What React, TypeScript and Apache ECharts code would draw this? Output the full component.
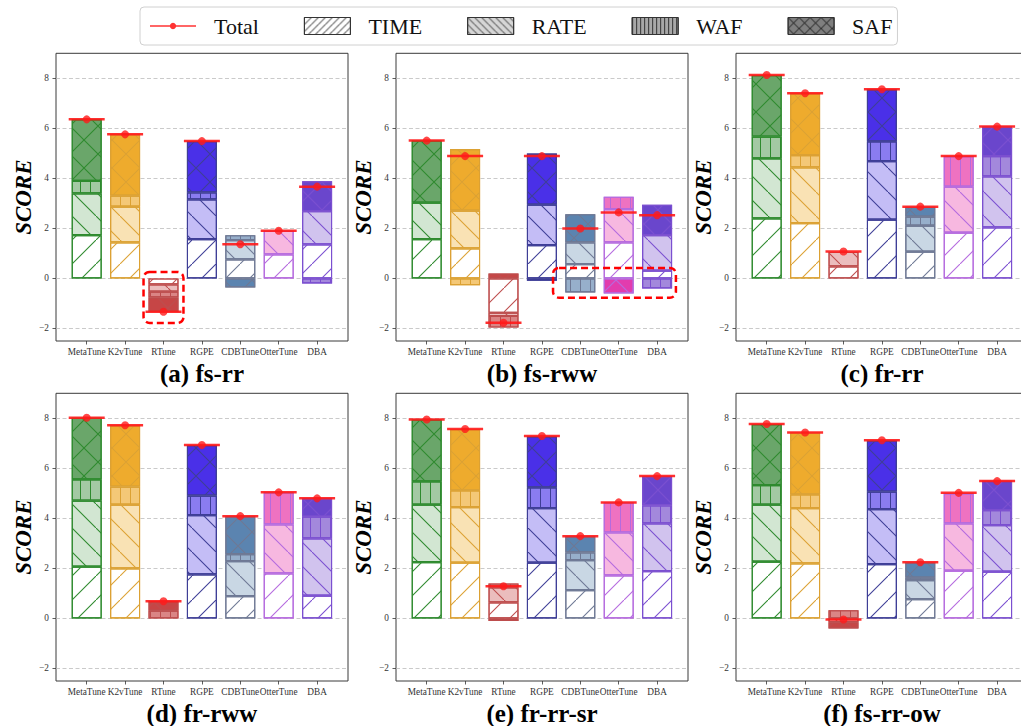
import React, { useEffect, useRef } from 'react';
import * as echarts from 'echarts';

// ---------------- data ----------------
const methods = ['MetaTune', 'K2vTune', 'RTune', 'RGPE', 'CDBTune', 'OtterTune', 'DBA'];
const panelTitles = ['(a) fs-rr', '(b) fs-rww', '(c) fr-rr', '(d) fr-rww', '(e) fr-rr-sr', '(f) fs-rr-ow'];
const components = ['TIME', 'RATE', 'WAF', 'SAF'];
const yTickMin = -2;
const yTickMax = 8;
const yTickStep = 2;

// one row per panel (a..f), one value per method
const TIME: (number | null)[][] = [
  [1.73, 1.44, -0.24, 1.57, 0.76, 0.96, 1.36],
  [1.57, 1.2, -1.37, 1.33, 0.57, 1.44, 0.31],
  [2.4, 2.21, 0.48, 2.35, 1.07, 1.83, 2.04],
  [2.07, 2.0, null, 1.76, 0.89, 1.8, 0.91],
  [2.25, 2.23, 0.64, 2.23, 1.13, 1.72, 1.89],
  [2.27, 2.2, null, 2.17, 0.77, 1.91, 1.87],
];
const RATE: (number | null)[][] = [
  [1.67, 1.43, -0.29, 1.59, 0.77, 0.95, 1.33],
  [1.46, 1.51, -0.13, 1.62, 0.87, 1.33, 1.42],
  [2.4, 2.23, 0.58, 2.34, 1.04, 1.84, 2.04],
  [2.64, 2.55, null, 2.37, 1.4, 1.96, 2.29],
  [2.3, 2.22, 0.6, 2.18, 1.2, 1.72, 1.91],
  [2.28, 2.21, -0.15, 2.2, 0.76, 1.89, 1.86],
];
const WAF: (number | null)[][] = [
  [0.5, 0.44, -0.23, 0.28, 0.2, null, -0.2],
  [null, -0.27, -0.46, -0.09, -0.56, 0.5, -0.4],
  [0.87, 0.49, null, 0.79, 0.36, 1.22, 0.81],
  [0.85, 0.72, 0.31, 0.78, 0.28, 1.28, 0.87],
  [0.93, 0.67, 0.16, 0.83, 0.31, 1.2, 0.72],
  [0.78, 0.55, 0.33, 0.7, 0.1, 1.2, 0.6],
];
const SAF: (number | null)[][] = [
  [2.46, 2.45, -0.57, 2.05, -0.36, null, 1.2],
  [2.48, 2.46, 0.2, 2.04, 1.13, -0.6, 1.22],
  [2.46, 2.47, null, 2.08, 0.4, null, 1.18],
  [2.46, 2.45, 0.38, 2.02, 1.52, null, 0.73],
  [2.47, 2.45, -0.1, 2.04, 0.65, null, 1.17],
  [2.44, 2.47, -0.25, 2.04, 0.61, null, 1.17],
];
const TOTAL: number[][] = [
  [6.36, 5.76, -1.33, 5.49, 1.37, 1.91, 3.67],
  [5.51, 4.89, -1.77, 4.89, 2.0, 2.64, 2.53],
  [8.13, 7.4, 1.08, 7.56, 2.87, 4.89, 6.07],
  [8.02, 7.72, 0.69, 6.93, 4.09, 5.04, 4.8],
  [7.95, 7.57, 1.29, 7.29, 3.29, 4.64, 5.69],
  [7.77, 7.43, -0.04, 7.12, 2.25, 5.02, 5.49],
];
const COMPONENT_DATA = [TIME, RATE, WAF, SAF];

// ---------------- styles ----------------
const FONT = "'Liberation Serif', 'Times New Roman', serif";
const EDGE = ['#2e8a2e', '#dca133', '#bd4d4d', '#3e3e96', '#6e7894', '#b56ade', '#7b4fd0'];
const FILL_RATE = ['#d2e6d2', '#f9e2b4', '#ebbdbd', '#c4bdf6', '#c9d7e4', '#f7b8e0', '#d1c3ee'];
const FILL_WAF = ['#a3c9a3', '#f4c877', '#da8585', '#8a7cf0', '#97afcb', '#ee72c1', '#a388dc'];
const FILL_SAF = ['#6aa66a', '#eeab2d', '#c64646', '#4a30e8', '#5b84b0', '#e23cae', '#6a46cc'];
const LEGEND_FILL = ['#ffffff', '#d6d6d6', '#a8a8a8', '#7f7f7f'];
const RED = '#ff1a1a';

// ---------------- layout ----------------
const W = 1021;
const H = 726;
const FRAME_LEFT = [56, 396, 736];
const FRAME_TOP = [53.3, 393.3];
const FRAME_W = 292;
const FRAME_H = 287.7;
const Y_MIN = -2.5;
const Y_MAX = 9;
const PPU = FRAME_H / (Y_MAX - Y_MIN);
const CAT_W = 38.4;
const FIRST_OFF = 30.7;

// annotation boxes: [panel, catFrom, catTo, valueTop, valueBottom]
const HIGHLIGHTS: [number, number, number, number, number][] = [
  [0, 1.48, 2.52, 0.26, -1.78],
  [1, 3.29, 6.49, 0.42, -0.77],
];

// ---------------- hatch decals ----------------
const decalCache = new Map<string, any>();
function diagPath(s: number, d: number, kind: 'fwd' | 'back' | 'cross') {
  const fwd = `M0,${s - d}L${s - d},0L${s},0L${s},${d}L${d},${s}L0,${s}Z`;
  const back = `M0,0L${d},0L${s},${s - d}L${s},${s}L${s - d},${s}L0,${d}Z`;
  if (kind === 'fwd') return 'path://' + fwd;
  if (kind === 'back') return 'path://' + back;
  return 'path://' + fwd + back;
}
function hatch(kind: 'fwd' | 'back' | 'vert' | 'cross', color: string, s: number, d: number) {
  const key = `${kind}|${color}|${s}|${d}`;
  if (decalCache.has(key)) return decalCache.get(key);
  let decal: any;
  if (kind === 'vert') {
    decal = {
      symbol: 'rect', symbolSize: 1, symbolKeepAspect: false,
      dashArrayX: [1, s - 1], dashArrayY: [10, 0], color, backgroundColor: null, rotation: 0,
    };
  } else {
    decal = {
      symbol: diagPath(s, d, kind), symbolSize: 1, symbolKeepAspect: false,
      dashArrayX: [s, 0], dashArrayY: [s, 0], color, backgroundColor: null, rotation: 0,
    };
  }
  decalCache.set(key, decal);
  return decal;
}
function barDecal(c: number, color: string) {
  if (c === 0) return hatch('fwd', color, 24, 0.75);
  if (c === 1) return hatch('back', color, 24, 0.75);
  if (c === 2) return hatch('vert', color, 10, 0);
  return hatch('cross', color, 28, 0.8);
}
function legendDecal(c: number) {
  if (c === 0) return hatch('fwd', '#222222', 7, 0.55);
  if (c === 1) return hatch('back', '#333333', 7, 0.55);
  if (c === 2) return hatch('vert', '#333333', 4, 0);
  return hatch('cross', '#222222', 11, 0.6);
}
function fillFor(c: number, i: number) {
  if (c === 0) return '#ffffff';
  if (c === 1) return FILL_RATE[i];
  if (c === 2) return FILL_WAF[i];
  return FILL_SAF[i];
}

const TOTAL_ICON =
  'path://M0,0L0.01,0L0,0.01Z M46,17L45.99,17L46,16.99Z M0,7.75L46,7.75L46,9.25L0,9.25Z M23,5.3A3.2,3.2 0 1 1 22.99,5.3Z';

function yFmt(v: number) {
  return v < 0 ? '\u2212' + Math.abs(v) : String(v);
}

function buildOption() {
  const grids: any[] = [];
  const xAxes: any[] = [];
  const yAxes: any[] = [];
  const series: any[] = [];
  const graphics: any[] = [];

  for (let p = 0; p < panelTitles.length; p++) {
    const col = p % 3;
    const row = Math.floor(p / 3);
    const fl = FRAME_LEFT[col];
    const ft = FRAME_TOP[row];

    // frame grid
    const gF = grids.length;
    grids.push({
      left: fl, top: ft, width: FRAME_W, height: FRAME_H, show: true,
      borderColor: '#3a3a3a', borderWidth: 1, backgroundColor: 'rgba(0,0,0,0)',
      containLabel: false, outerBoundsMode: 'none',
    });
    xAxes.push({ type: 'value', gridIndex: gF, show: false, min: 0, max: 1 });
    yAxes.push({ type: 'value', gridIndex: gF, show: false, min: 0, max: 1 });

    // tick grid (y labels, grid lines)
    const gT = grids.length;
    grids.push({
      left: fl, top: ft + (Y_MAX - yTickMax) * PPU, width: FRAME_W,
      height: (yTickMax - yTickMin) * PPU, show: false, containLabel: false, outerBoundsMode: 'none',
    });
    xAxes.push({ type: 'value', gridIndex: gT, show: false, min: 0, max: 1 });
    yAxes.push({
      type: 'value', gridIndex: gT, min: yTickMin, max: yTickMax, interval: yTickStep,
      axisLine: { show: false, onZero: false },
      axisTick: { show: true, length: 3.5, lineStyle: { color: '#333', width: 0.8 } },
      axisLabel: { show: true, fontSize: 9.3, color: '#333', margin: 7, fontFamily: FONT, formatter: yFmt },
      splitLine: { show: true, lineStyle: { color: '#bcbcbc', width: 0.8, type: [4, 2.5] } },
    });

    // bar grid
    const gB = grids.length;
    grids.push({
      left: fl + FIRST_OFF - CAT_W / 2, top: ft, width: CAT_W * methods.length, height: FRAME_H,
      show: false, containLabel: false, outerBoundsMode: 'none',
    });
    xAxes.push({
      type: 'category', gridIndex: gB, data: methods, boundaryGap: true,
      axisLine: { show: false, onZero: false },
      axisTick: { show: true, alignWithLabel: true, length: 3.5, lineStyle: { color: '#333', width: 0.8 } },
      axisLabel: { interval: 0, fontSize: 9.3, color: '#333', margin: 6, fontFamily: FONT, hideOverlap: false },
      splitLine: { show: false },
    });
    yAxes.push({ type: 'value', gridIndex: gB, min: Y_MIN, max: Y_MAX, show: false, splitLine: { show: false } });

    components.forEach((name, c) => {
      const vals = COMPONENT_DATA[c][p];
      series.push({
        type: 'bar', name, xAxisIndex: gB, yAxisIndex: gB, stack: 'panel' + p,
        stackStrategy: 'samesign', barWidth: 30, z: 2,
        itemStyle: { color: LEGEND_FILL[c], borderColor: '#333', borderWidth: 1, decal: legendDecal(c) },
        emphasis: { disabled: true },
        data: vals.map((v, i) =>
          v == null
            ? '-'
            : {
                value: v,
                itemStyle: { color: fillFor(c, i), borderColor: EDGE[i], borderWidth: 1.1, decal: barDecal(c, EDGE[i]) },
              }
        ),
      });
    });

    series.push({
      type: 'scatter', name: 'TotalSeg', xAxisIndex: gB, yAxisIndex: gB, z: 5, silent: true,
      symbol: 'rect', symbolSize: [36, 2.5], itemStyle: { color: RED, opacity: 0.9 },
      data: TOTAL[p],
    });
    series.push({
      type: 'scatter', name: 'Total', xAxisIndex: gB, yAxisIndex: gB, z: 6, silent: true,
      symbol: 'circle', symbolSize: 8, itemStyle: { color: RED },
      data: TOTAL[p],
    });

    graphics.push({
      type: 'text', x: fl + FRAME_W / 2, y: ft + FRAME_H + 32, silent: true,
      style: {
        text: panelTitles[p], fontSize: 25, fontWeight: 'bold', fontFamily: FONT, fill: '#000',
        align: 'center', verticalAlign: 'middle',
      },
    });
    graphics.push({
      type: 'text', x: fl - 32.5, y: ft + FRAME_H / 2, rotation: Math.PI / 2, silent: true,
      style: {
        text: 'SCORE', fontSize: 23, fontWeight: 'bold', fontStyle: 'italic', fontFamily: FONT, fill: '#000',
        align: 'center', verticalAlign: 'middle',
      },
    });
  }

  HIGHLIGHTS.forEach(([p, c0, c1, vTop, vBot]) => {
    const fl = FRAME_LEFT[p % 3];
    const ft = FRAME_TOP[Math.floor(p / 3)];
    const x0 = fl + FIRST_OFF + c0 * CAT_W;
    const x1 = fl + FIRST_OFF + c1 * CAT_W;
    const y0 = ft + (Y_MAX - vTop) * PPU;
    const y1 = ft + (Y_MAX - vBot) * PPU;
    graphics.push({
      type: 'rect', silent: true, z: 100,
      shape: { x: x0, y: y0, width: x1 - x0, height: y1 - y0, r: 6 },
      style: { fill: 'none', stroke: '#ff0000', lineWidth: 2.5, lineDash: [7, 4] },
    });
  });

  return {
    animation: false,
    backgroundColor: '#ffffff',
    textStyle: { fontFamily: FONT },
    grid: grids,
    xAxis: xAxes,
    yAxis: yAxes,
    series,
    graphic: { elements: graphics },
    legend: {
      left: 140, top: 7, orient: 'horizontal', itemWidth: 46, itemHeight: 17, itemGap: 45,
      padding: [8, 5, 8, 10], borderColor: '#d0d0d0', borderWidth: 1, borderRadius: 4,
      backgroundColor: '#ffffff', icon: 'rect', selectedMode: false,
      textStyle: { fontFamily: FONT, fontSize: 22, color: '#111', padding: [0, 0, 0, 13] },
      itemStyle: { borderColor: '#333', borderWidth: 1 },
      data: [
        { name: 'Total', icon: TOTAL_ICON, itemStyle: { borderWidth: 0, color: '#ff0000' } },
        'TIME', 'RATE', 'WAF', 'SAF',
      ],
    },
  };
}

export default function App() {
  const ref = useRef<HTMLDivElement>(null);
  useEffect(() => {
    if (!ref.current) return;
    const chart = echarts.init(ref.current, null, { renderer: 'svg', width: W, height: H });
    chart.setOption(buildOption() as any);
    return () => {
      chart.dispose();
    };
  }, []);
  return (
    <div
      ref={ref}
      style={{ position: 'fixed', left: 0, top: 0, width: W, height: H, background: '#fff' }}
    />
  );
}
